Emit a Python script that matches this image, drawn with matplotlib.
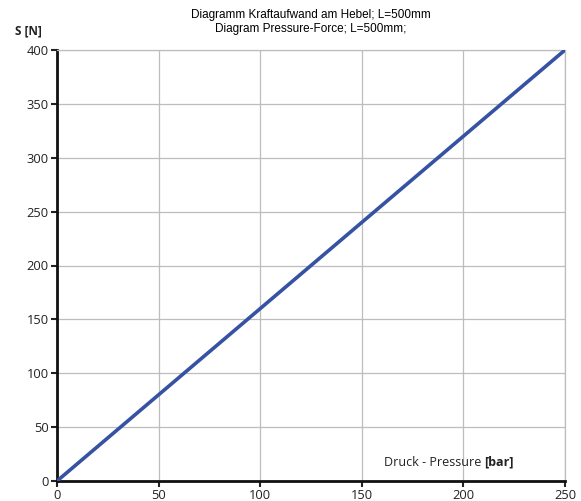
import matplotlib.pyplot as plt

pressure = [0, 250]
force = [0, 400]
x_ticks = [0, 50, 100, 150, 200, 250]
y_ticks = [0, 50, 100, 150, 200, 250, 300, 350, 400]

plt.rcParams['font.family'] = ['Open Sans', 'DejaVu Sans']

fig = plt.figure(figsize=(5.81, 5.01), dpi=100)
ax = fig.add_axes([57 / 581, 1 - 481 / 501, 508 / 581, 431 / 501])

ax.plot(pressure, force, color='#3552a3', linewidth=2.6, solid_capstyle='round', zorder=3)

ax.set_xlim(0, 250)
ax.set_ylim(0, 400)
ax.set_xticks(x_ticks)
ax.set_yticks(y_ticks)
ax.grid(True, color='#bdbdbd', linewidth=0.9)
ax.tick_params(labelsize=9.3, colors='#222222', length=4, width=1.5, pad=2)

for side in ['top', 'right']:
    ax.spines[side].set_color('#bdbdbd')
    ax.spines[side].set_linewidth(0.9)
for side in ['left', 'bottom']:
    ax.spines[side].set_color('#111111')
    ax.spines[side].set_linewidth(2)

cx = (57 + 565) / 2 / 581
fig.text(cx, 1 - 15 / 501, 'Diagramm Kraftaufwand am Hebel; L=500mm',
         ha='center', va='center', fontsize=8.5, family='Liberation Sans')
fig.text(cx, 1 - 29 / 501, 'Diagram Pressure-Force; L=500mm;',
         ha='center', va='center', fontsize=8.5, family='Liberation Sans')
fig.text(15 / 581, 1 - 31 / 501, 'S [N]', ha='left', va='center',
         fontsize=8.5, fontweight='bold', color='#222222')

t1 = ax.text(0.644, 0.035, 'Druck - Pressure', transform=ax.transAxes,
             ha='left', va='baseline', fontsize=9, color='#222222')
fig.canvas.draw()
bb = t1.get_window_extent().transformed(ax.transAxes.inverted())
ax.text(bb.x1 + 0.005, 0.035, '[bar]', transform=ax.transAxes,
        ha='left', va='baseline', fontsize=9, fontweight='bold', color='#222222')

fig.savefig('out.png', dpi=100)
